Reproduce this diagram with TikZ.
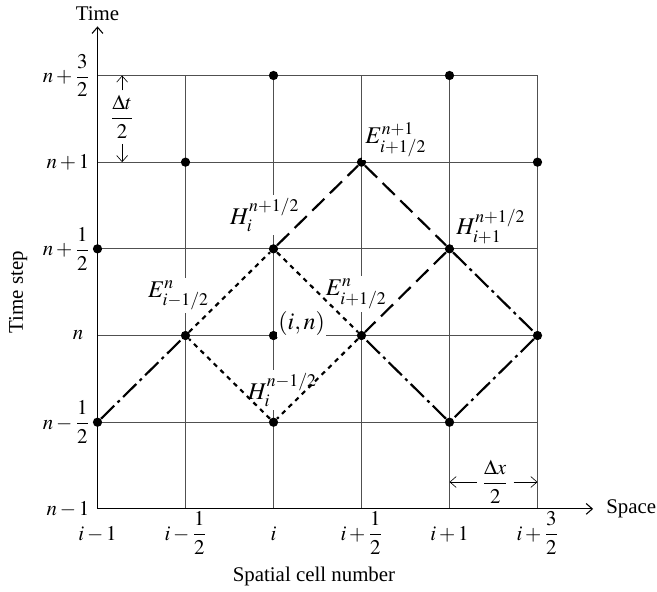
\documentclass[tikz,border=0pt]{standalone}
\usepackage{amsmath}
\usepackage{mathptmx}
\usepackage[no-math]{fontspec}
\setmainfont{Liberation Serif}
\usetikzlibrary{arrows,arrows.meta,positioning,backgrounds}
\definecolor{gridgray}{RGB}{80,80,80}

\begin{document}
\begin{tikzpicture}[
x=2cm, y=1.97cm,
font=\fontsize{13.5}{16}\selectfont,
>={Straight Barb[length=4pt,width=7pt]},
dot/.style={circle, fill=black, inner sep=0pt, minimum size=6pt},
gridline/.style={draw=gridgray, line width=0.6pt},
axis/.style={->, line width=0.7pt},
tag/.style={fill=white, inner sep=2pt, font=\fontsize{15.5}{18}\selectfont},
shortdash/.style={line width=1.4pt, dash pattern=on 3pt off 3pt},
longdash/.style={line width=1.4pt, dash pattern=on 11pt off 5pt},
dashdot/.style={line width=1.4pt, dash pattern=on 12pt off 3pt on 2pt off 3pt}
]
\useasboundingbox (-1.108,-0.957) rectangle (6.358,5.871);
% field points
\foreach \px/\py in {0/1,0/3,1/2,1/4,2/1,2/2,2/3,2/5,3/2,3/4,4/1,4/3,4/5,5/2,5/4}
  \node[dot] (d\px\py) at (\px,\py) {};
% mesh
\begin{scope}[on background layer]
\foreach \k in {1,...,5} {
  \draw[gridline] (\k,0) -- (\k,5);
  \draw[gridline] (0,\k) -- (5,\k);
}
\end{scope}
% axes
\coordinate (origin) at (0,0);
\node (time) at (0,5.71) {Time};
\node[anchor=west] (space) at (5.72,0) {Space};
\draw[axis] (origin) -- (time);
\draw[axis] (origin) -- ([xshift=-5pt]space.west);
\node[rotate=90] (ylabel) at (-0.9,2.5) {Time step};
\node (xlabel) at (2.46,-0.78) {Spatial cell number};
% tick labels
\foreach \k/\lab in {0/{n-1},1/{n-\dfrac{1}{2}},3/{n+\dfrac{1}{2}},4/{n+1},5/{n+\dfrac{3}{2}}}
  \node[anchor=east] (t\k) at (-0.03,\k) {$\lab$};
\node[anchor=east] (t2) at (-0.1,2) {$n$};
\foreach \k/\lab in {0/{i-1},1/{i-\dfrac{1}{2}},2/{i},3/{i+\dfrac{1}{2}},4/{i+1},5/{i+\dfrac{3}{2}}}
  \node[anchor=base] (s\k) at (\k,-0.36) {$\lab$};
% half steps
\node (dt) at (0.28,4.52) {$\dfrac{\Delta t}{2}$};
\coordinate (dttop) at (0.28,5);
\coordinate (dtbot) at (0.28,4);
\draw[->] (dt) -- (dttop);
\draw[->] (dt) -- (dtbot);
\node (dx) at (4.52,0.31) {$\dfrac{\Delta x}{2}$};
\coordinate (dxl) at (4,0.31);
\coordinate (dxr) at (5,0.31);
\draw[->] (dx) -- (dxl);
\draw[->] (dx) -- (dxr);
% field labels
\node[tag] (lE34) at (3.39,4.26) {$E^{n+1}_{i+1/2}$};
\node[tag] (lH23) at (1.90,3.39) {$H^{n+1/2}_{i}$};
\node[tag] (lH43) at (4.47,3.26) {$H^{n+1/2}_{i+1}$};
\node[tag] (lE12) at (0.92,2.46) {$E^{n}_{i-1/2}$};
\node[tag] (lE32) at (2.94,2.48) {$E^{n}_{i+1/2}$};
\node[tag, inner sep=1pt] (lin) at (2.32,2.14) {$(i,n)$};
\node[tag] (lH21) at (2.10,1.37) {$H^{n-1/2}_{i}$};
% update paths
\draw[dashdot] (d01) -- (d12);
\draw[shortdash] (d12) -- (d23) -- (d32) -- (d21) -- (d12);
\draw[longdash] (d23) -- (d34) -- (d43) -- (d32);
\draw[dashdot] (d43) -- (d52) -- (d41) -- (d32);
\end{tikzpicture}
\end{document}
